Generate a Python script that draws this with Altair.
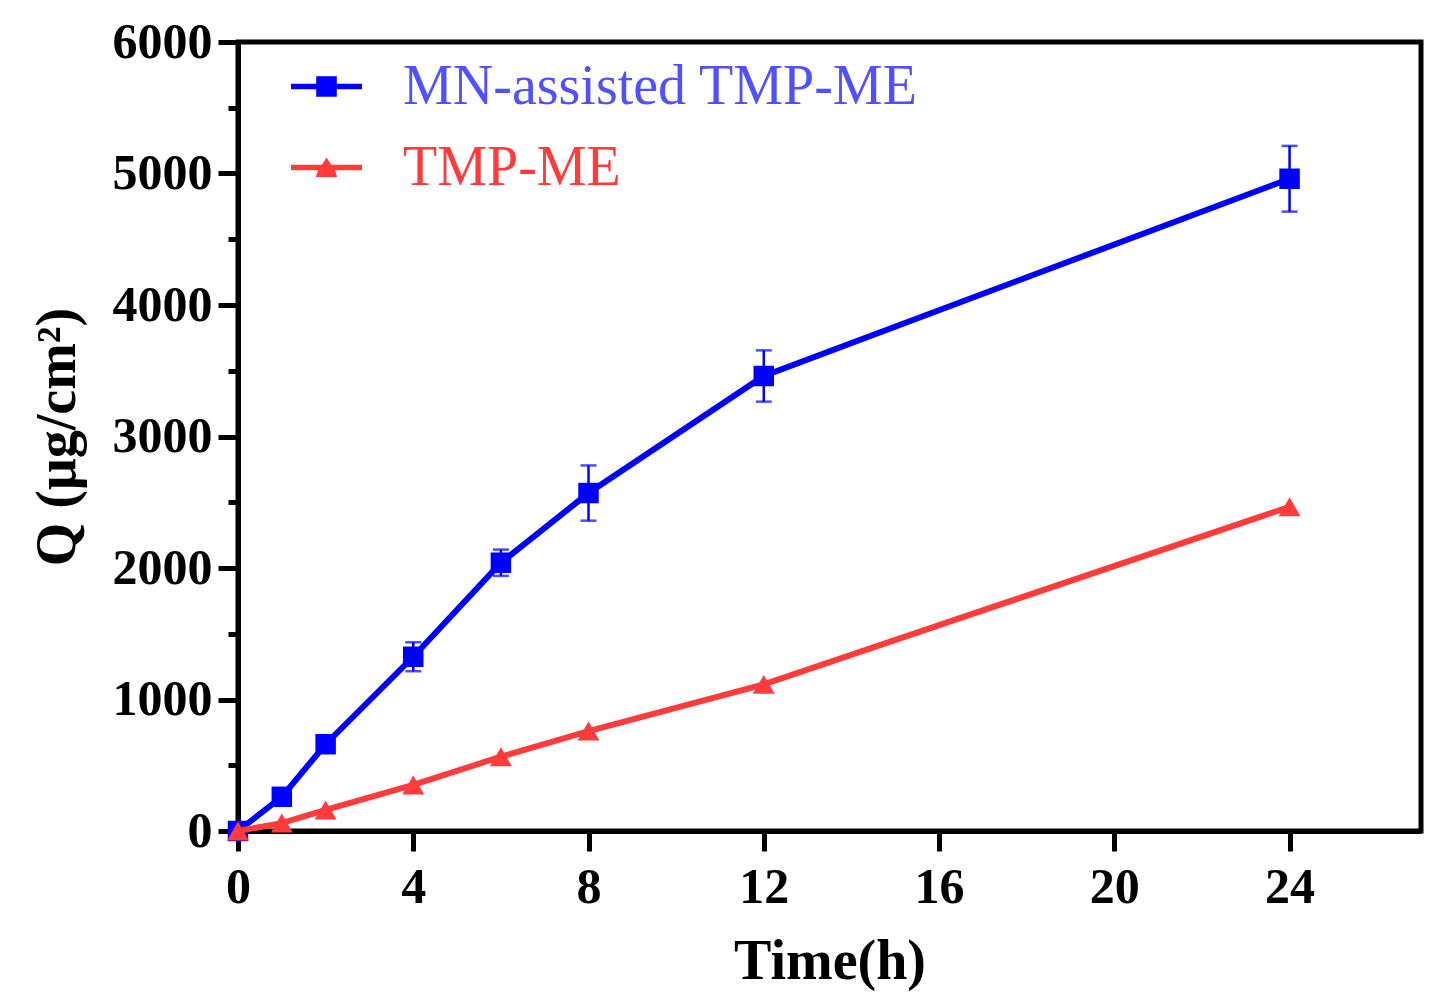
import altair as alt
import pandas as pd

# ---- data ----
time_h = [0, 1, 2, 4, 6, 8, 12, 24]
mn_q = [0, 260, 660, 1325, 2040, 2570, 3460, 4960]
mn_err = [0, 20, 40, 110, 100, 210, 195, 250]
me_q = [0, 60, 160, 350, 565, 760, 1115, 2465]

series_names = ["MN-assisted TMP-ME", "TMP-ME"]
line_colors = ["#0000ff", "#ff3b3b"]
label_colors = ["#5050ff", "#ff3b3b"]
x_ticks = [0, 4, 8, 12, 16, 20, 24]
y_ticks = [0, 500, 1000, 1500, 2000, 2500, 3000, 3500, 4000, 4500, 5000, 5500, 6000]

rows = []
for t, q, e in zip(time_h, mn_q, mn_err):
    rows.append({"t": t, "q": q, "lo": q - e, "hi": q + e, "series": series_names[0]})
for t, q in zip(time_h, me_q):
    rows.append({"t": t, "q": q, "lo": q, "hi": q, "series": series_names[1]})
df = pd.DataFrame(rows)
df_mn = df[df.series == series_names[0]]

FONT = "Liberation Serif"

x_enc = alt.X("t:Q", scale=alt.Scale(domain=[0, 27], nice=False),
              axis=alt.Axis(values=x_ticks, title="Time(h)", format="d",
                            tickSize=20, labelPadding=11, titlePadding=22,
                            labelFlush=False))
y_enc = alt.Y("q:Q", scale=alt.Scale(domain=[0, 6000], nice=False),
              axis=alt.Axis(values=y_ticks, title="Q (μg/cm²)", format="d",
                            tickSize={"condition": {"test": "datum.value % 1000 === 0", "value": 20}, "value": 10},
                            labelPadding=6, titlePadding=26, labelFlush=False,
                            labelExpr="datum.value % 1000 === 0 ? datum.label : ''"))

SQ = "M-1,-0.08H-0.29V-0.29H0.29V-0.08H1V0.08H0.29V0.29H-0.29V0.08H-1Z"
TRI = "M-1,-0.08H-0.13L0,-0.28L0.13,-0.08H1V0.08H0.24L0.3,0.27H-0.3L-0.24,0.08H-1Z"

is_me = "datum.value === '" + series_names[1] + "'"
color_enc = alt.Color(
    "series:N",
    scale=alt.Scale(domain=series_names, range=line_colors),
    legend=alt.Legend(
        title=None, orient="none", legendX=53, legendY=9,
        labelFont=FONT, labelFontSize=56, labelFontWeight="normal",
        labelOffset=41, rowPadding=17, symbolSize=5041, symbolStrokeWidth=0,
        labelLimit=900,
        labelColor={"expr": is_me + " ? '" + label_colors[1] + "' : '" + label_colors[0] + "'"},
        symbolType={"expr": is_me + " ? '" + TRI + "' : '" + SQ + "'"},
        symbolFillColor={"expr": is_me + " ? '" + line_colors[1] + "' : '" + line_colors[0] + "'"},
        symbolOpacity=1,
    ),
)

err_rule = alt.Chart(df_mn).mark_rule(strokeWidth=2.5, color=line_colors[0]).encode(
    x=x_enc, y="lo:Q", y2="hi:Q")
err_cap_lo = alt.Chart(df_mn).mark_tick(size=16, thickness=2.5, color=line_colors[0],
                                        orient="horizontal").encode(x="t:Q", y="lo:Q")
err_cap_hi = alt.Chart(df_mn).mark_tick(size=16, thickness=2.5, color=line_colors[0],
                                        orient="horizontal").encode(x="t:Q", y="hi:Q")

def series_layers(name, shape, size):
    d = df[df.series == name]
    line = alt.Chart(d).mark_line(strokeWidth=6).encode(x=x_enc, y=y_enc, color=color_enc)
    pts = alt.Chart(d).mark_point(filled=True, shape=shape, size=size, opacity=1).encode(
        x="t:Q", y="q:Q", color=color_enc)
    return [line, pts]

layers = [err_rule, err_cap_lo, err_cap_hi]
layers += series_layers(series_names[0], "square", 420)
layers += series_layers(series_names[1], "triangle-up", 480)

chart = alt.layer(*layers).properties(
    width=1183, height=789,
    padding={"left": 21, "top": 9, "right": 5, "bottom": 5},
).configure_view(
    stroke="black", strokeWidth=5
).configure_axis(
    domainColor="black", domainWidth=5, tickColor="black", tickWidth=5,
    grid=False, labelFont=FONT, labelFontSize=50, labelFontWeight="bold",
    labelColor="black", titleFont=FONT, titleFontSize=56, titleFontWeight="bold",
    titleColor="black",
)

chart.save("out.html", embed_options={"renderer": "svg", "actions": False})
